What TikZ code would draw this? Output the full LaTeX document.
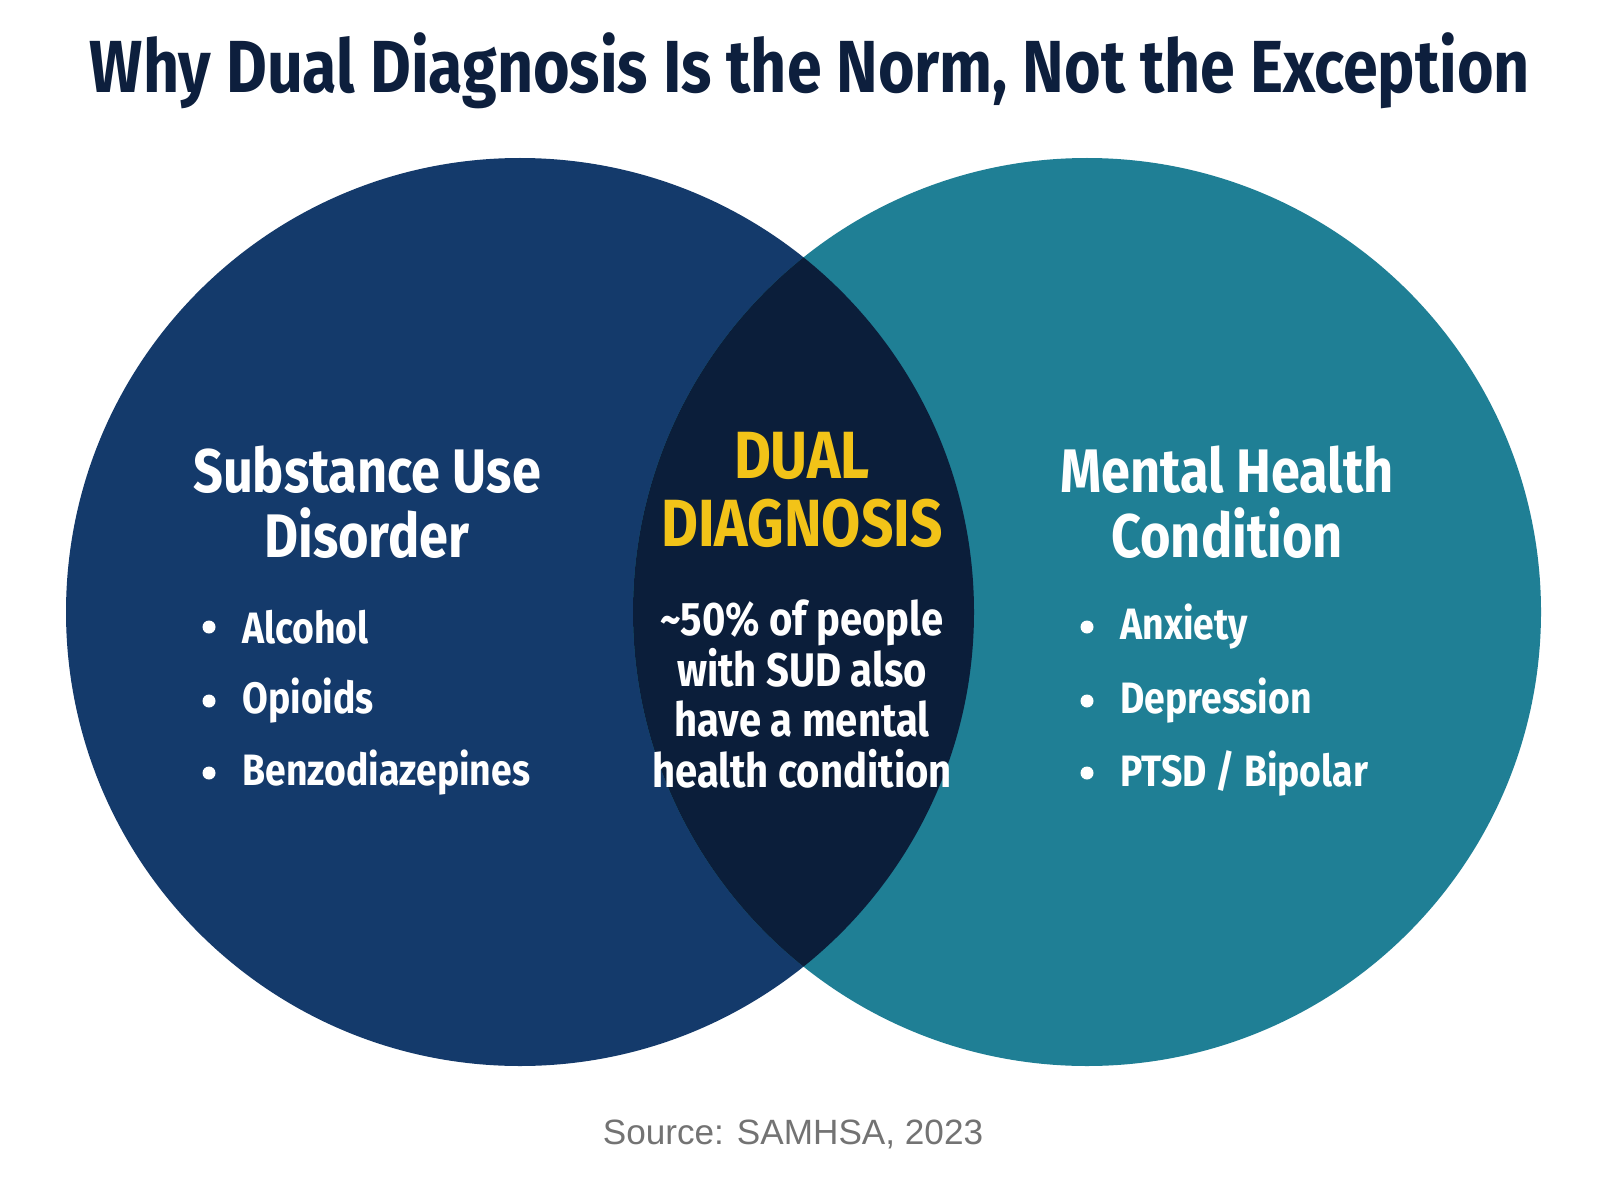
\documentclass[tikz,border=0pt]{standalone}
\usepackage{fontspec}
\setmainfont{Fira Sans}[FakeStretch=0.85]
\newfontfamily\srcfont{Liberation Sans}
\definecolor{navy}{HTML}{143A6B}
\definecolor{teal}{HTML}{1F7F95}
\definecolor{dark}{HTML}{0B1E3A}
\definecolor{titlec}{HTML}{0D1F3D}
\definecolor{gold}{HTML}{F2C318}
\begin{document}
\begin{tikzpicture}[
  head/.style={text=white,font=\fontsize{17.5}{18.5}\selectfont\bfseries,align=center},
  item/.style={text=white,font=\fontsize{12.5}{15}\selectfont\bfseries,anchor=west},
  dot/.style={circle,fill=white,inner sep=0pt,minimum size=0.13cm}]
\useasboundingbox (0,0) rectangle (16,12);
\fill[white] (0,0) rectangle (16,12);
\node[text=titlec,font=\fontsize{21}{25}\selectfont\bfseries] (title) at (8.1,11.29) {Why Dual Diagnosis Is the Norm, Not the Exception};
\fill[navy] (5.2,5.88) circle (4.54);
\fill[teal] (10.87,5.88) circle (4.54);
\begin{scope}
\clip (5.2,5.88) circle (4.54);
\fill[dark] (10.87,5.88) circle (4.54);
\end{scope}
\node[head] (sud) at (3.67,6.98) {Substance Use\\Disorder};
\node[head] (mh) at (12.27,6.98) {Mental Health\\Condition};
\foreach \t/\y [count=\i] in {Alcohol/5.73,Opioids/4.99,Benzodiazepines/4.27}{
  \node[dot] (ld\i) at (2.09,\y) {};
  \node[item] (lt\i) at (2.3,\y) {\t};
}
\foreach \t/\y [count=\i] in {Anxiety/5.73,Depression/4.99,{PTSD / Bipolar}/4.27}{
  \node[dot] (rd\i) at (10.87,\y) {};
  \node[item] (rt\i) at (11.08,\y) {\t};
}
\node[text=gold,font=\fontsize{19}{19.3}\selectfont\bfseries,align=center] (dd) at (8.02,7.1) {DUAL\\DIAGNOSIS};
\node[text=white,font=\fontsize{13.4}{14.5}\selectfont\bfseries,align=center] (pct) at (8.02,5.06) {\textasciitilde50\% of people\\with SUD also\\have a mental\\health condition};
\node[text=gray!90!black,font=\srcfont\fontsize{10}{12}\selectfont] (src) at (7.93,0.66) {Source: SAMHSA, 2023};
\end{tikzpicture}
\end{document}
